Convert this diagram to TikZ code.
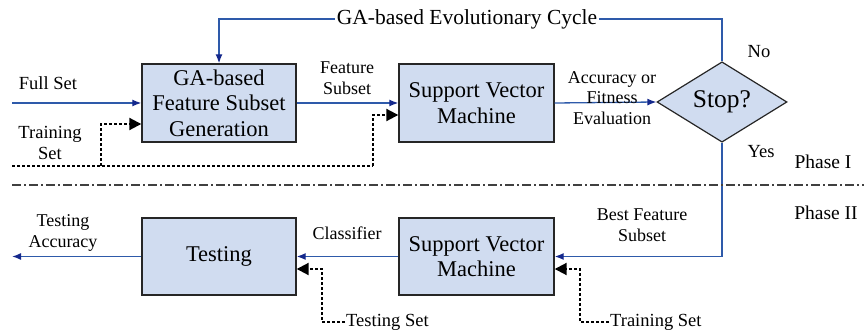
\documentclass[tikz,border=0pt]{standalone}
\usepackage{fontspec}
\setmainfont{Liberation Serif}
\usetikzlibrary{shapes.geometric,arrows.meta}
\definecolor{boxfill}{RGB}{208,220,240}
\definecolor{flowblue}{RGB}{46,90,170}
\definecolor{tipblue}{RGB}{20,40,140}
\tikzset{
  procbox/.style={draw=black!85, line width=1.4pt, fill=boxfill, rectangle,
    minimum width=154pt, minimum height=78pt, align=center, inner sep=1pt,
    font=\fontsize{22.5}{25.5}\selectfont},
  decision/.style={draw=black!85, line width=1.2pt, fill=boxfill, diamond,
    minimum width=130pt, minimum height=76pt, inner sep=0pt,
    font=\fontsize{25.5}{28}\selectfont},
  flow/.style={draw=flowblue, line width=1.3pt,
    -{Latex[length=9pt,width=7pt,color=tipblue]}},
  dataflow/.style={draw=black, line width=2pt, dash pattern=on 3pt off 2pt,
    -{Triangle[length=12pt,width=12pt,color=black,sep=0pt]}},
  dataline/.style={draw=black, line width=2pt, dash pattern=on 3pt off 2pt},
  lbl/.style={align=center, inner sep=1pt, font=\fontsize{18}{20.5}\selectfont},
  biglbl/.style={align=center, inner sep=1pt, font=\fontsize{18.5}{21}\selectfont},
}
\begin{document}
\begin{tikzpicture}[x=1pt, y=-1pt]
  \useasboundingbox (0,0) rectangle (864,331);

  % Phase I: GA-based feature selection
  \node[procbox] (gen) at (219,103) {GA-based\\Feature Subset\\Generation};
  \node[procbox, minimum width=155pt] (svm1) at (476.5,103) {Support Vector\\Machine};
  \node[decision] (stop) at (722,102) {Stop?};

  % Phase II: evaluation
  \node[procbox, minimum height=77pt] (test) at (219,256.5) {Testing};
  \node[procbox, minimum width=155pt, minimum height=77pt] (svm2) at (476.5,256.5) {Support Vector\\Machine};

  % free ends of the connectors
  \coordinate (fullin) at (12,103);
  \coordinate (trainin) at (12,166);
  \coordinate (trainsplit) at (101,166);
  \coordinate (trainturn) at (373,166);
  \coordinate (accout) at (12,256.5);
  \coordinate (loopy) at (0,19);

  % main flow
  \draw[flow] (fullin) -- (gen.west);
  \draw[flow] (gen.east) -- (svm1.west);
  \draw[flow] (svm1.east) -- (stop.west);
  \draw[flow] (stop.north) |- (gen.north |- loopy) -- (gen.north);
  \draw[flow] (stop.south) |- (svm2.east);
  \draw[flow] (svm2.west) -- (test.east);
  \draw[flow] (test.west) -- (accout);

  % training data (dashed)
  \draw[dataline] (trainin) -- (trainturn);
  \draw[dataflow] (trainturn) |- ([yshift=-12pt]svm1.west);
  \draw[dataflow] (trainsplit) |- ([yshift=-21pt]gen.west);

  % test and training data for Phase II
  \node[biglbl, anchor=west] (testset) at (345,322) {Testing Set};
  \node[biglbl, anchor=west] (trainset) at (609,322) {Training Set};
  \draw[dataflow] (testset.west) -| (322,269) -- ([yshift=-12.5pt]test.east);
  \draw[dataflow] (trainset.west) -| (580,269) -- ([yshift=-12.5pt]svm2.east);

  % loop label
  \node[align=center, fill=white, inner sep=2pt, font=\fontsize{21.5}{24}\selectfont]
    (cycle) at (467,19) {GA-based Evolutionary Cycle};

  % phase separator
  \draw[black!75, line width=1.2pt, dash pattern=on 9pt off 3pt on 2pt off 3pt] (12,185) -- (864,185);

  % labels
  \node[biglbl] (lfull) at (48,83) {Full Set};
  \node[biglbl] (ltrain) at (50,143) {Training\\Set};
  \node[lbl] (lsubset) at (347,78) {Feature\\Subset};
  \node[lbl] (lacc) at (612,98) {Accuracy or\\Fitness\\Evaluation};
  \node[biglbl] (lno) at (759,52) {No};
  \node[biglbl] (lyes) at (761,152) {Yes};
  \node[font=\fontsize{19.5}{22}\selectfont] (ph1) at (823,162) {Phase I};
  \node[font=\fontsize{19.5}{22}\selectfont] (ph2) at (826,213) {Phase II};
  \node[lbl] (lbest) at (642,225) {Best Feature\\Subset};
  \node[lbl] (lclass) at (347,233) {Classifier};
  \node[lbl] (ltacc) at (63,233) {Testing\\Accuracy};
\end{tikzpicture}
\end{document}
